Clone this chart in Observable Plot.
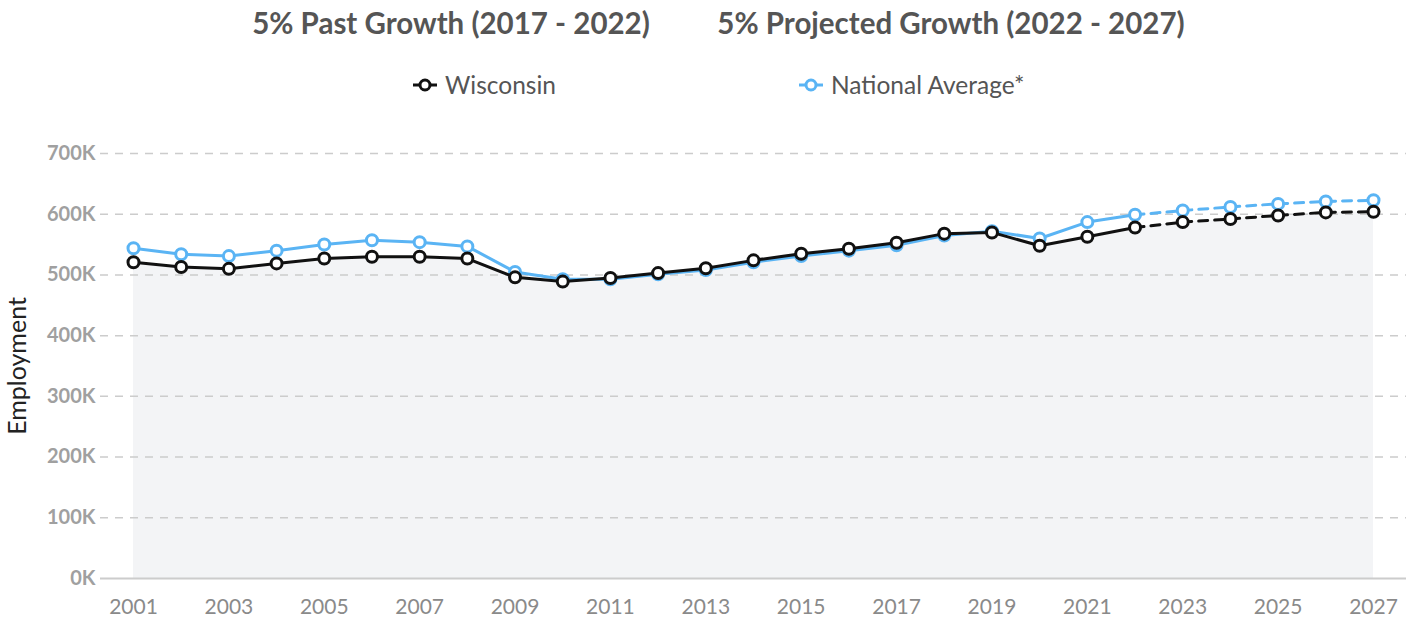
<!DOCTYPE html>
<html><head><meta charset="utf-8">
<script src="https://cdn.jsdelivr.net/npm/d3@7"></script>
<script src="https://cdn.jsdelivr.net/npm/@observablehq/plot@0.6"></script>
<style>
body{margin:0;background:#fff;font-family:Lato,sans-serif;}
#wrap{position:relative;width:1413px;height:622px;overflow:hidden;}
.title{position:absolute;top:5px;font-weight:700;font-size:29.5px;line-height:36px;color:#555;white-space:nowrap;transform:translateX(-50%);}
.leg{position:absolute;top:70px;font-size:24.5px;line-height:30px;color:#555;white-space:nowrap;display:flex;align-items:center;}
.leg svg{margin-right:8px;}
#chart{position:absolute;left:0;top:120px;}
</style></head>
<body>
<div id="wrap">
  <div class="title" style="left:451px">5% Past Growth (2017 - 2022)</div>
  <div class="title" style="left:951px">5% Projected Growth (2022 - 2027)</div>
  <div class="leg" style="left:413px"><svg width="24" height="16"><line x1="0" y1="8" x2="24" y2="8" stroke="#111" stroke-width="3"/><circle cx="12" cy="8" r="5" fill="#fff" stroke="#111" stroke-width="3"/></svg>Wisconsin</div>
  <div class="leg" style="left:799px"><svg width="24" height="16"><line x1="0" y1="8" x2="24" y2="8" stroke="#5ab4f4" stroke-width="3"/><circle cx="12" cy="8" r="5" fill="#fff" stroke="#5ab4f4" stroke-width="3"/></svg>National Average*</div>
  <div id="chart"></div>
</div>
<script>
const years = [2001,2002,2003,2004,2005,2006,2007,2008,2009,2010,2011,2012,2013,2014,2015,2016,2017,2018,2019,2020,2021,2022,2023,2024,2025,2026,2027];
const wisconsin = [521,513,510,519,527,530,530,527,496,489,495,503,511,524,535,543,553,568,570,548,563,578,587,592,598,603,604];
const national = [544,534,531,540,550,557,554,547,505,493,493,501,508,521,531,540,549,565,572,560,587,599,606,612,617,621,623];
const yTicks = [0,100000,200000,300000,400000,500000,600000,700000];
const xTicks = [2001,2003,2005,2007,2009,2011,2013,2015,2017,2019,2021,2023,2025,2027];
const lastActual = 2022;

const wRows = years.map((y,i)=>({year:y, value:wisconsin[i]*1000}));
const nRows = years.map((y,i)=>({year:y, value:national[i]*1000}));
const past = r => r.filter(d=>d.year<=lastActual);
const future = r => r.filter(d=>d.year>=lastActual);

const BLUE = "#5ab4f4", BLACK = "#111";

const plot = Plot.plot({
  width:1413, height:502,
  marginLeft:100, marginRight:7, marginTop:33, marginBottom:44,
  style:{fontFamily:"Lato, sans-serif", background:"#fff"},
  x:{domain:[2001,2027], inset:33},
  y:{domain:[0,700000]},
  marks:[
    Plot.areaY(wRows,{x:"year", y:"value", fill:"#f3f4f6"}),
    Plot.ruleY(yTicks.filter(d=>d>0),{stroke:"#ccc", strokeWidth:1.5, strokeDasharray:"8,7"}),
    Plot.ruleY([0],{stroke:"#ccc", strokeWidth:2}),
    Plot.axisY({ticks:yTicks, tickFormat:d=>d/1000+"K", tickSize:0, tickPadding:5, fontSize:20, fontWeight:"bold", color:"#a0a0a0", label:null}),
    Plot.axisX({ticks:xTicks, tickFormat:"d", tickSize:0, tickPadding:21, fontSize:21, color:"#8a8a8a", label:null}),
    Plot.line(past(nRows),{x:"year", y:"value", stroke:BLUE, strokeWidth:3}),
    Plot.line(future(nRows),{x:"year", y:"value", stroke:BLUE, strokeWidth:3, strokeDasharray:"9,7"}),
    Plot.dot(nRows,{x:"year", y:"value", r:5.5, fill:"#fff", stroke:BLUE, strokeWidth:3}),
    Plot.line(past(wRows),{x:"year", y:"value", stroke:BLACK, strokeWidth:3}),
    Plot.line(future(wRows),{x:"year", y:"value", stroke:BLACK, strokeWidth:3, strokeDasharray:"9,7"}),
    Plot.dot(wRows,{x:"year", y:"value", r:5.5, fill:"#fff", stroke:BLACK, strokeWidth:3}),
    Plot.text(["Employment"],{frameAnchor:"left", textAnchor:"middle", dx:-83, rotate:-90, fontSize:25, fill:"#222"})
  ]
});
document.getElementById("chart").appendChild(plot);
</script>
</body></html>
